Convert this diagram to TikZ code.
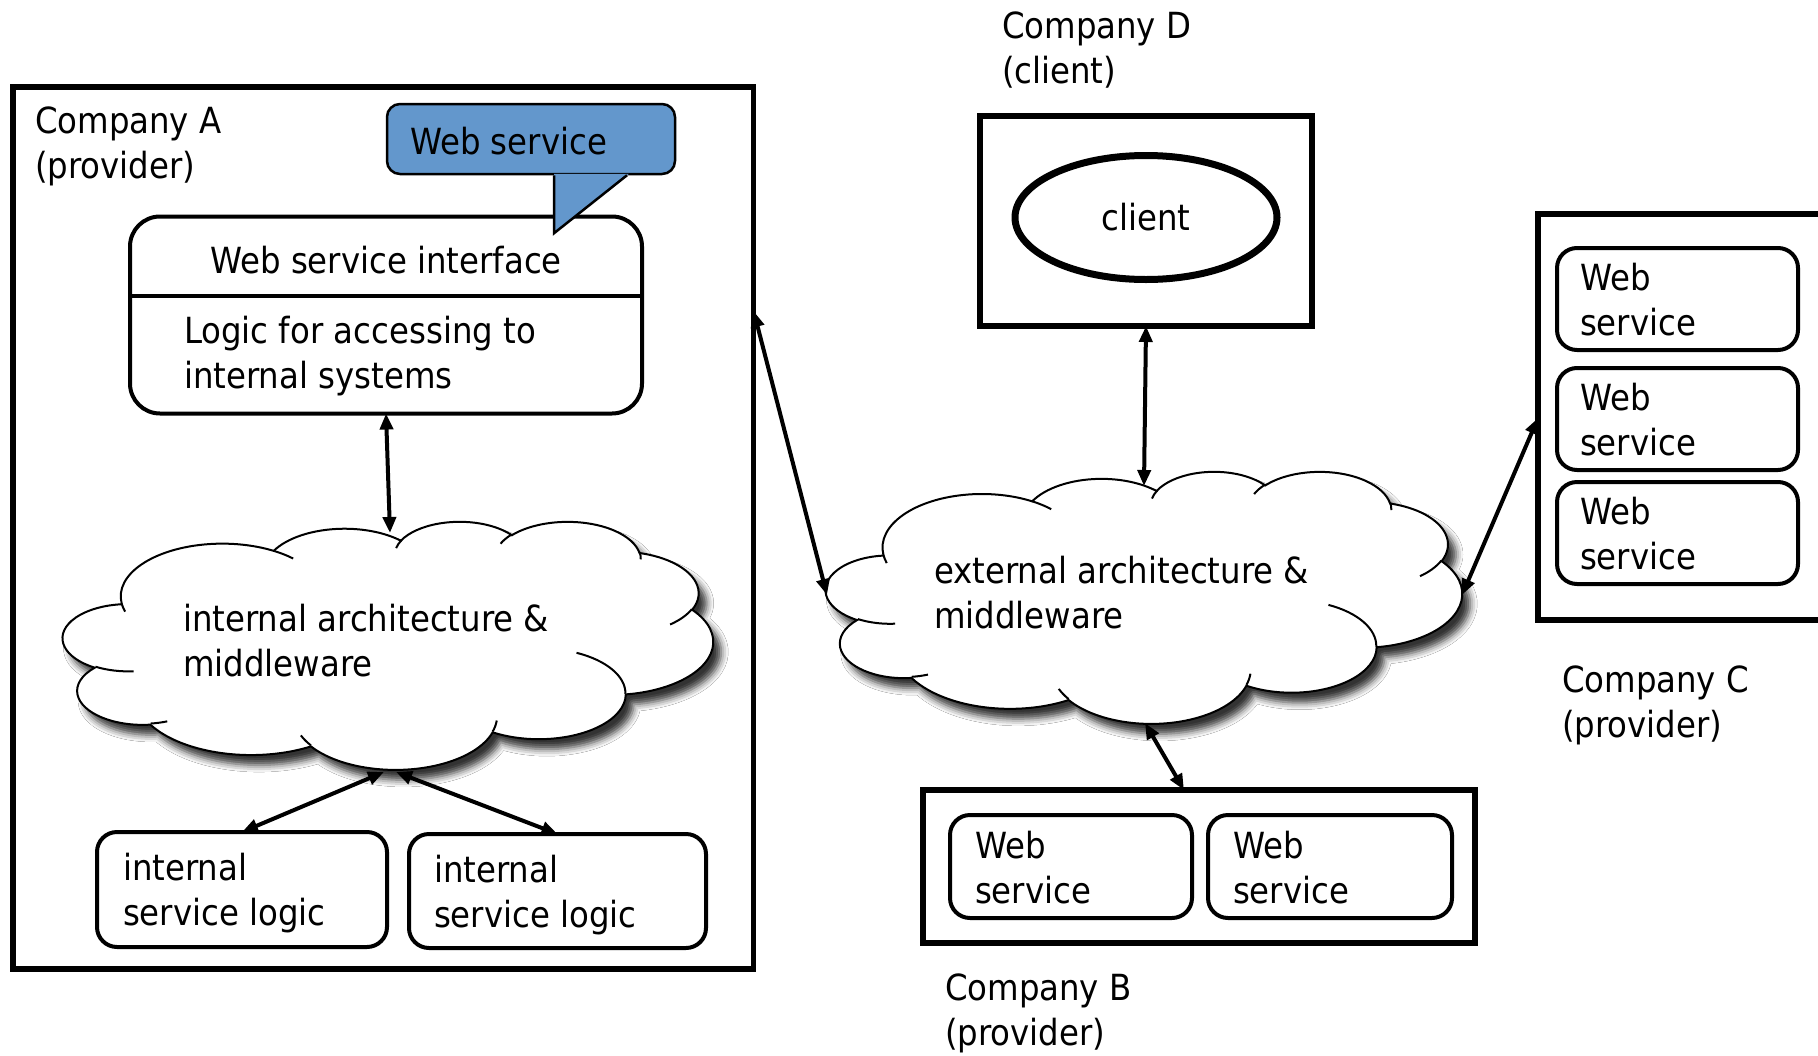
\documentclass[tikz,border=0pt]{standalone}
\usepackage{fontspec}
\setmainfont{DejaVu Sans}[FakeStretch=0.9]
\usetikzlibrary{arrows.meta,shadows.blur,shapes.geometric}

\makeatletter
% parametric angle of the point seen under angle #3 on an ellipse with radii #1, #2
\pgfmathdeclarefunction{oang}{3}{%
  \begingroup
  \pgfmathparse{atan2((#1)*sin(#3),(#2)*cos(#3))}%
  \pgfmath@smuggleone\pgfmathresult
  \endgroup}
% parametric sweep that matches a visual sweep #4 starting at #3
\pgfmathdeclarefunction{osweep}{4}{%
  \begingroup
  \pgfmathparse{oang(#1,#2,(#3)+(#4))-oang(#1,#2,#3)}%
  \let\osw@d\pgfmathresult
  \pgfmathparse{(#4)>0 ? mod(\osw@d+720,360) : -mod(720-(\osw@d),360)}%
  \pgfmath@smuggleone\pgfmathresult
  \endgroup}
\makeatother

% one elliptic arc: x radius, y radius, start angle, sweep (visual angles)
\newcommand\oarc[4]{arc[x radius=#1, y radius=#2, start angle={oang(#1,#2,#3)}, delta angle={osweep(#1,#2,#3,#4)}]}

% cloud outline in a 432 x 432 box, y pointing down
\newcommand\cloudoutline{(39.00,143.70)
  \oarc{67.53}{91.90}{-190.4875}{123.7805}
  \oarc{53.33}{72.67}{-144.1024}{89.9452}
  \oarc{43.65}{59.45}{-145.8079}{99.7230}
  \oarc{48.57}{65.95}{-130.9861}{117.2417}
  \oarc{53.33}{72.73}{-78.7089}{109.0269}
  \oarc{67.75}{92.20}{-46.2673}{130.2690}
  \oarc{57.85}{78.67}{0.6250}{114.0333}
  \oarc{67.52}{92.15}{22.4516}{115.1726}
  \oarc{77.20}{105.43}{66.2426}{75.7110}
  \oarc{43.60}{59.18}{-274.9421}{146.7356}
  \oarc{43.45}{59.45}{-246.8285}{152.5189}
  -- cycle}

% the short inner strokes of the cloud
\newcommand\cloudcreases{
  (46.93,261.77) \oarc{43.45}{59.45}{86.7420}{26.4295}
  (69.28,348.99) \oarc{43.60}{59.18}{73.6105}{11.4475}
  (164.78,390.90) \oarc{67.52}{92.15}{137.6242}{14.0811}
  (288.27,347.51) \oarc{67.52}{92.15}{6.4533}{15.9984}
  (341.29,229.54) \oarc{57.85}{78.67}{-70.2924}{70.9174}
  (417.98,153.54) \oarc{53.33}{72.73}{30.3180}{27.7515}
  (383.24,54.26) \oarc{48.57}{65.95}{-13.7443}{14.8589}
  (290.78,39.52) \oarc{48.57}{65.95}{-149.1815}{18.1954}
  (221.41,47.20) \oarc{43.65}{59.45}{-163.4943}{17.6864}
  (140.00,51.92) \oarc{67.53}{91.90}{-66.7070}{12.3194}
  (41.27,157.89) \oarc{67.53}{91.90}{157.6544}{11.8582}}

\definecolor{wsblue}{RGB}{99,151,204}

\tikzset{
  txt/.style={font=\fontsize{36pt}{45pt}\selectfont, inner sep=0pt, outer sep=0pt, align=left},
  frame/.style={draw, line width=5.5pt, inner sep=0pt, outer sep=0pt},
  wsbox/.style={draw, line width=4pt, rounded corners=20pt, inner sep=0pt, outer sep=0pt},
  cloudarea/.style={inner sep=0pt, outer sep=0pt},
  cloudline/.style={line width=2pt},
  cloudshadow/.style={blur shadow={shadow xshift=8pt, shadow yshift=-10pt, shadow blur radius=7pt, shadow opacity=80}},
  link/.style={line width=4pt, {Triangle[length=16pt,width=13pt]}-{Triangle[length=16pt,width=13pt]}},
}

\begin{document}
\begin{tikzpicture}[x=1pt, y=1pt]
\useasboundingbox (0,0) rectangle (1818,-1055);
\fill[white] (0,0) rectangle (1818,-1055);

% ---------- Company A ----------
\node[frame, minimum width=740.8pt, minimum height=882pt] (compA) at (383.2,-528) {};
\node[txt, anchor=base west] (labA) at (35,-178) {Company A\\(provider)};

% web service interface block
\node[wsbox, rounded corners=30pt, minimum width=512pt, minimum height=197pt] (iface) at (386,-315) {};
\draw[line width=4.5pt] ([yshift=19pt]iface.west) -- ([yshift=19pt]iface.east);
\node[txt, anchor=base] (ifacetitle) at (386,-273) {Web service interface};
\node[txt, anchor=base west] (ifacelogic) at (184,-388) {Logic for accessing to\\internal systems};

% callout
\node[draw, line width=2.5pt, fill=wsblue, rounded corners=13pt, minimum width=288pt, minimum height=70pt, inner sep=0pt] (wsnote) at (531,-139) {};
\fill[wsblue] ([xshift=23pt, yshift=1.5pt]wsnote.south) -- ([xshift=23pt, yshift=-58pt]wsnote.south) -- ([xshift=96pt]wsnote.south) -- ([xshift=98pt, yshift=1.5pt]wsnote.south) -- cycle;
\draw[line width=2.5pt] ([xshift=23pt]wsnote.south) -- ([xshift=23pt, yshift=-58pt]wsnote.south) -- ([xshift=96pt]wsnote.south);
\node[txt, anchor=base west] (wstext) at (410,-154) {Web service};

% internal cloud
\node[cloudarea, minimum width=650pt, minimum height=248pt] (icloud) at (388,-645) {};
\begin{scope}[shift={(icloud.north west)}, xscale=650/432, yscale=-248/432]
  \path[cloudline, draw, fill=white, cloudshadow] \cloudoutline;
  \draw[cloudline] \cloudcreases;
\end{scope}
\node[txt, anchor=base west] (icloudtext) at (183,-676) {internal architecture \&\\middleware};

% internal service logic
\node[wsbox, minimum width=290pt, minimum height=115pt] (isl1) at (242,-889.5) {};
\node[wsbox, minimum width=297pt, minimum height=114pt] (isl2) at (557.5,-891) {};
\node[txt, anchor=base west] (isl1text) at (123,-925) {internal\\service logic};
\node[txt, anchor=base west] (isl2text) at (434,-927) {internal\\service logic};

% ---------- Company D ----------
\node[txt, anchor=base west] (labD) at (1002,-83) {Company D\\(client)};
\node[frame, line width=6pt, minimum width=332pt, minimum height=210pt] (compD) at (1146,-221) {};
\node[txt, draw, ellipse, line width=7pt, minimum width=262pt, minimum height=124pt] (client) at (1146,-217.5) {client};

% ---------- external cloud ----------
\node[cloudarea, minimum width=636pt, minimum height=252pt] (ecloud) at (1144,-597) {};
\begin{scope}[shift={(ecloud.north west)}, xscale=636/432, yscale=-252/432]
  \path[cloudline, draw, fill=white, cloudshadow] \cloudoutline;
  \draw[cloudline] \cloudcreases;
\end{scope}
\node[txt, anchor=base west] (ecloudtext) at (934,-628) {external architecture \&\\middleware};

% ---------- Company C ----------
\node[frame, minimum width=302pt, minimum height=406pt] (compC) at (1689,-417) {};
\node[wsbox, minimum width=241pt, minimum height=102pt] (wsC1) at (1677.5,-299) {};
\node[wsbox, minimum width=241pt, minimum height=102pt] (wsC2) at (1677.5,-419) {};
\node[wsbox, minimum width=241pt, minimum height=102pt] (wsC3) at (1677.5,-533) {};
\node[txt, anchor=base west] (wsC1text) at (1580,-335) {Web\\service};
\node[txt, anchor=base west] (wsC2text) at (1580,-455) {Web\\service};
\node[txt, anchor=base west] (wsC3text) at (1580,-569) {Web\\service};
\node[txt, anchor=base west] (labC) at (1562,-737) {Company C\\(provider)};

% ---------- Company B ----------
\node[frame, line width=6pt, minimum width=552pt, minimum height=153pt] (compB) at (1199,-866.5) {};
\node[wsbox, minimum width=242pt, minimum height=103pt] (wsB1) at (1071,-866.5) {};
\node[wsbox, minimum width=244pt, minimum height=103pt] (wsB2) at (1330,-866.5) {};
\node[txt, anchor=base west] (wsB1text) at (975,-903) {Web\\service};
\node[txt, anchor=base west] (wsB2text) at (1233,-903) {Web\\service};
\node[txt, anchor=base west] (labB) at (945,-1045) {Company B\\(provider)};

% ---------- connectors ----------
\coordinate (icloud-n) at (390,-533);
\coordinate (icloud-sl) at (384,-772);
\coordinate (icloud-sr) at (396,-772);
\coordinate (ecloud-w) at (827,-595);
\coordinate (ecloud-n) at (1144,-486);
\coordinate (ecloud-e) at (1462,-595);
\coordinate (ecloud-s) at (1145,-723);

\draw[link] (iface.south) -- (icloud-n);
\draw[link] (icloud-sl) -- (isl1.north);
\draw[link] (icloud-sr) -- (isl2.north);
\draw[link] ([yshift=217pt]compA.east) -- (ecloud-w);
\draw[link] (compD.south) -- (ecloud-n);
\draw[link] (ecloud-e) -- ([yshift=-1pt]compC.west);
\draw[link] (ecloud-s) -- ([xshift=-15pt]compB.north);
\end{tikzpicture}
\end{document}
